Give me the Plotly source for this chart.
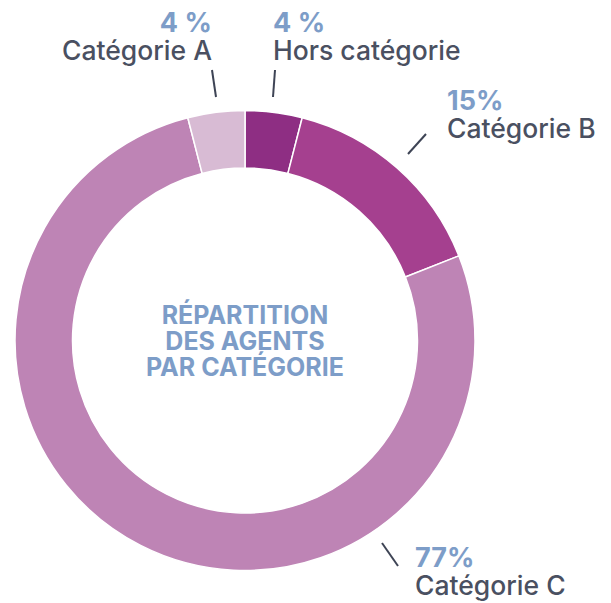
import plotly.graph_objects as go

# data (clockwise from 12 o'clock)
categories = ["Hors catégorie", "Catégorie B", "Catégorie C", "Catégorie A"]
shares = [4, 15, 77, 4]
pct_labels = ["4 %", "15%", "77%", "4 %"]
colors = ["#8E2E83", "#A5408F", "#BE84B5", "#D8BBD4"]
center_lines = ["RÉPARTITION", "DES AGENTS", "PAR CATÉGORIE"]

W, H = 611, 603
OFF = 8  # page body margin
TEXT = "#4A5061"
BLUE = "#7D9DC8"
FONT = "Inter, Open Sans, sans-serif"


def px(x):
    return (x - OFF) / W


def py(y):
    return 1 - (y - OFF) / H


fig = go.Figure()

fig.add_trace(go.Pie(
    labels=categories,
    values=shares,
    sort=False,
    direction="clockwise",
    rotation=0,
    hole=0.75,
    textinfo="none",
    hoverinfo="label+percent",
    marker=dict(colors=colors, line=dict(color="white", width=1.5)),
    domain=dict(x=[px(15), px(475)], y=[py(571), py(110)]),
    showlegend=False,
))

# label placement: (x anchor px, xanchor, middle of the two lines y)
label_pos = {
    "Catégorie A": (214, "right", 36),
    "Hors catégorie": (271, "left", 36),
    "Catégorie B": (445, "left", 114),
    "Catégorie C": (413, "left", 571),
}

annotations = []
for cat, pct in zip(categories, pct_labels):
    x, anchor, y = label_pos[cat]
    txt = ('<span style="font-size:27px;color:%s"><b>%s</b></span><br>'
           '<span style="font-size:26.5px;font-weight:500">%s</span>') % (BLUE, pct, cat)
    annotations.append(dict(
        x=px(x), y=py(y), xref="paper", yref="paper",
        xanchor=anchor, yanchor="middle", showarrow=False, align=anchor,
        text=txt, font=dict(family=FONT, size=21.5, color=TEXT),
    ))

center_txt = "<br>".join('<span style="font-size:25px"><b>%s</b></span>' % l for l in center_lines)
annotations.append(dict(
    x=px(245), y=py(340), xref="paper", yref="paper",
    xanchor="center", yanchor="middle", showarrow=False, align="center",
    text=center_txt, font=dict(family=FONT, size=20, color=BLUE),
))

leaders = [
    (212, 70, 216, 97),
    (275, 70, 273, 97),
    (426, 134, 408, 154),
    (382, 543, 398, 566),
]
shapes = [
    dict(type="line", xref="paper", yref="paper",
         x0=px(a), y0=py(b), x1=px(c), y1=py(d),
         line=dict(color="#3E4455", width=2))
    for a, b, c, d in leaders
]

fig.update_layout(
    width=W, height=H,
    margin=dict(l=0, r=0, t=0, b=0),
    paper_bgcolor="white",
    plot_bgcolor="white",
    annotations=annotations,
    shapes=shapes,
)

fig.write_html("out.html")
